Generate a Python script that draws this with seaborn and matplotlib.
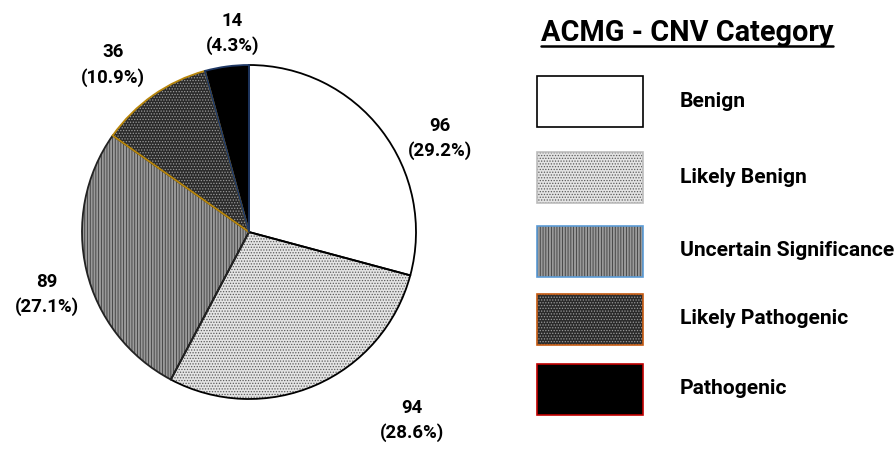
import matplotlib
matplotlib.use("Agg")
import matplotlib.pyplot as plt
from matplotlib.patches import Rectangle
import seaborn as sns

# ACMG CNV classification counts
categories = ["Benign", "Likely Benign", "Uncertain Significance",
              "Likely Pathogenic", "Pathogenic"]
counts = [96, 94, 89, 36, 14]
percents = [29.2, 28.6, 27.1, 10.9, 4.3]
legend_title = "ACMG - CNV Category"

sns.set_theme(style="white")
plt.rcParams["font.family"] = ["Roboto", "DejaVu Sans"]
plt.rcParams["text.color"] = "black"
plt.rcParams["hatch.linewidth"] = 0.6

# fill, hatch pattern, hatch colour per category
faces = ["white", "#e4e4e4", "#9a9a9a", "#2a2a2a", "black"]
hatches = [None, "......", "||||||", "......", None]
hatch_cols = ["white", "#5a5a5a", "#3c3c3c", "#9a9a9a", "black"]
pie_edges = ["black", "black", "#222222", "#b8860b", "#1f3864"]
legend_edges = ["black", "#bdbdbd", "#5b9bd5", "#c55a11", "#c00000"]

W, H = 896, 450
fig = plt.figure(figsize=(W / 100, H / 100), dpi=100)


def fit_width(txt, target_px):
    """Scale a text's font size so its rendered width is target_px."""
    fig.canvas.draw()
    w = txt.get_window_extent().width
    txt.set_fontsize(txt.get_fontsize() * target_px / w)


# pie axes: centre at (249, 232) px, radius 167 px
R = 167.0
cx, cy = 249.0, 232.0
ax = fig.add_axes([0, 0, 2 * cx / W, 2 * (H - cy) / H])

wedges, _ = ax.pie(counts, startangle=90, counterclock=False, radius=1,
                   colors=faces, wedgeprops=dict(linewidth=0))
for w, h, hc in zip(wedges, hatches, hatch_cols):
    if h:
        w.set_hatch(h)
    w.set_edgecolor(hc)
    w.set_linewidth(0)

outline, _ = ax.pie(counts, startangle=90, counterclock=False, radius=1,
                    wedgeprops=dict(fill=False, linewidth=1.3))
for w, ec in zip(outline, pie_edges):
    w.set_edgecolor(ec)

ax.set_aspect("auto")
ax.set_xlim(-cx / R, cx / R)
ax.set_ylim(-(H - cy) / R, (H - cy) / R)
ax.axis("off")

# value labels placed around the pie (data units, radius = 1)
label_pos = [(1.145, 0.56), (0.975, -1.13), (-1.21, -0.375),
             (-0.815, 1.0), (-0.10, 1.19)]
value_texts = []
for (x, y), n, p in zip(label_pos, counts, percents):
    t = ax.text(x, y, f"{n}\n({p}%)", ha="center", va="center",
                fontsize=13, fontweight="bold", linespacing=1.45)
    value_texts.append(t)
fit_width(value_texts[0], 64)
for t in value_texts[1:]:
    t.set_fontsize(value_texts[0].get_fontsize())

# legend drawn on a pixel-space overlay
lax = fig.add_axes([0, 0, 1, 1])
lax.set_xlim(0, W)
lax.set_ylim(H, 0)
lax.axis("off")

title = lax.text(687, 33, legend_title, ha="center", va="center",
                 fontsize=17, fontweight="bold")
fit_width(title, 292)
fig.canvas.draw()
bb = title.get_window_extent().transformed(lax.transData.inverted())
lax.plot([bb.x0, bb.x1], [bb.y0 - 1, bb.y0 - 1], color="black", lw=1.8)

row_y = [101.5, 177.5, 251, 319, 389]
box_w, box_h = 106, 51
labels = []
for y, lab, fc, h, hc, ec in zip(row_y, categories, faces, hatches,
                                  hatch_cols, legend_edges):
    lax.add_patch(Rectangle((537, y - box_h / 2), box_w, box_h,
                            facecolor=fc, hatch=h, edgecolor=hc, lw=0))
    lax.add_patch(Rectangle((537, y - box_h / 2), box_w, box_h,
                            fill=False, edgecolor=ec, lw=1.2))
    labels.append(lax.text(680, y, lab, ha="left", va="center",
                           fontsize=13, fontweight="bold"))
fit_width(labels[2], 213)
for t in labels:
    t.set_fontsize(labels[2].get_fontsize())

fig.savefig("out.png", dpi=100)
